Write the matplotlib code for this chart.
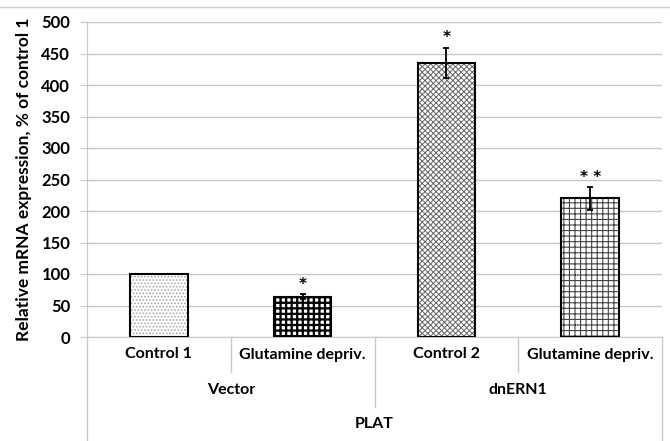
import numpy as np
import matplotlib.pyplot as plt
from matplotlib.lines import Line2D

# data
conditions = ['Control 1', 'Glutamine depriv.', 'Control 2', 'Glutamine depriv.']
groups = ['Vector', 'dnERN1']
gene = 'PLAT'
values = [100, 64, 435, 220]
errors = [0, 4, 24, 18]
stars = ['', '*', '*', '* *']
hatches = ['.....', '+++', 'xxxxxx', '+++']
hatch_colors = ['#a8a8a8', 'black', '#666666', '#444444']
hatch_widths = [0.8, 1.6, 0.7, 0.8]

plt.rcParams['font.family'] = ['Lato', 'DejaVu Sans']
plt.rcParams['font.weight'] = 'bold'

fig = plt.figure(figsize=(6.7, 4.41), dpi=100)
ax = fig.add_axes([87/670, 104/441, 575/670, 315/441])

x = np.arange(len(values))
for i in range(len(values)):
    plt.rcParams['hatch.linewidth'] = hatch_widths[i]
    ax.bar(x[i], values[i], width=0.4, color='white', edgecolor=hatch_colors[i],
           hatch=hatches[i], linewidth=0, zorder=3)
    ax.bar(x[i], values[i], width=0.4, color='none', edgecolor='black',
           linewidth=1.5, zorder=4)
    if errors[i] > 0:
        ax.errorbar(x[i], values[i], yerr=errors[i], fmt='none', ecolor='black',
                    elinewidth=1.3, capsize=2.5, capthick=1.3, zorder=5)
    if stars[i]:
        ax.text(x[i], values[i] + errors[i] + 4, stars[i], ha='center', va='bottom',
                fontsize=11, fontweight='bold', family='DejaVu Sans')

ax.set_xlim(-0.5, 3.5)
ax.set_ylim(0, 500)
ax.set_yticks(np.arange(0, 501, 50))
ax.yaxis.grid(True, color='#c8c8c8', linewidth=1)
ax.set_axisbelow(True)
ax.tick_params(axis='y', length=5, color='#c8c8c8', labelsize=12, pad=7)
ax.tick_params(axis='x', length=0, labelbottom=False)
for s in ['top', 'right']:
    ax.spines[s].set_visible(False)
ax.spines['left'].set_color('#c8c8c8')
ax.spines['bottom'].set_color('#c8c8c8')
ax.set_ylabel('Relative mRNA expression, % of control 1', fontsize=12.5,
              fontweight='bold', labelpad=7)

# multi-level category axis below the plot
tr = ax.transAxes
row_h = 35/315
line_kw = dict(color='#c8c8c8', linewidth=1, transform=tr, clip_on=False)
for i, lab in enumerate(conditions):
    ax.text((i + 0.5)/4, -0.5*row_h, lab, transform=tr, ha='center', va='center',
            fontsize=11.5, fontweight='bold')
for i, lab in enumerate(groups):
    ax.text((i + 0.5)/2, -1.5*row_h, lab, transform=tr, ha='center', va='center',
            fontsize=11.5, fontweight='bold')
ax.text(0.5, -2.5*row_h, gene, transform=tr, ha='center', va='center',
        fontsize=11.5, fontweight='bold')
for xs in [0.25, 0.75]:
    ax.add_line(Line2D([xs, xs], [0, -row_h], **line_kw))
ax.add_line(Line2D([0.5, 0.5], [0, -2*row_h], **line_kw))
ax.add_line(Line2D([0, 0], [0, -3.2*row_h], **line_kw))
ax.add_line(Line2D([1, 1], [0, -3.2*row_h], **line_kw))

# light border line at top of chart area
fig.add_artist(Line2D([0, 1], [1 - 7/441, 1 - 7/441], color='#d0d0d0', linewidth=1))

fig.savefig('out.png', dpi=100)
